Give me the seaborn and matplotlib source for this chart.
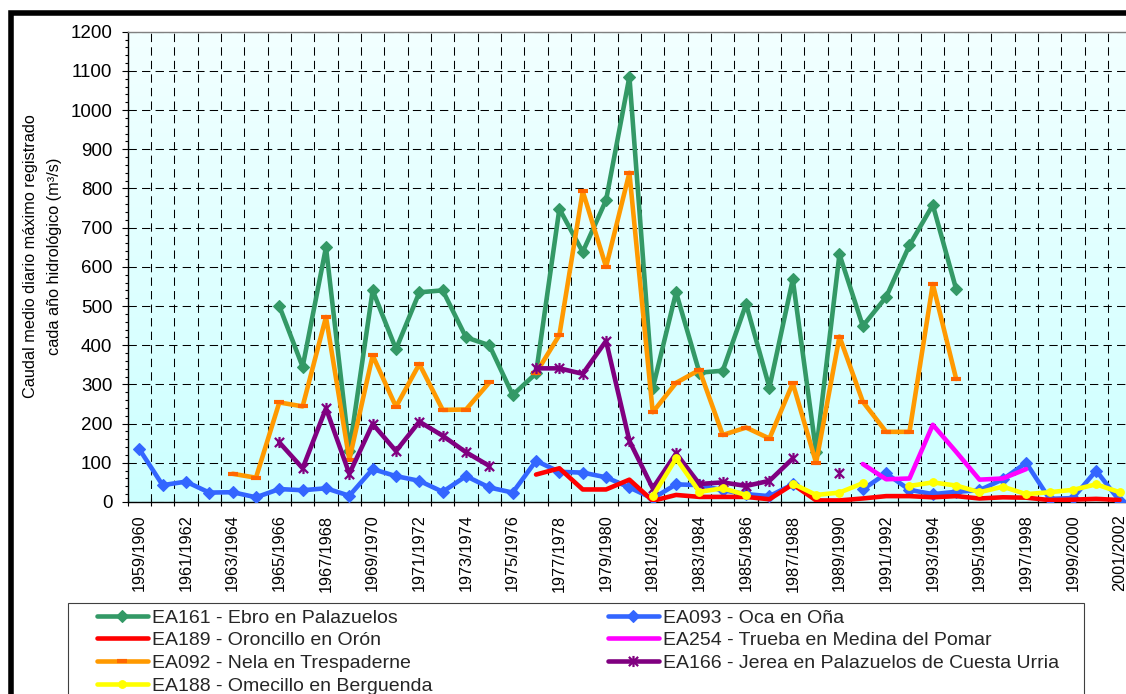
import numpy as np
import pandas as pd
import matplotlib
matplotlib.use("Agg")
import matplotlib.pyplot as plt
import seaborn as sns
from matplotlib.lines import Line2D
from matplotlib.patches import Rectangle
from matplotlib.path import Path
from matplotlib.ticker import FixedLocator, MultipleLocator, NullFormatter, FixedFormatter

nan = np.nan

# Hydrological years on the category axis
years = [
    "1959/1960", "1960/1961", "1961/1962", "1962/1963", "1963/1964", "1964/1965",
    "1965/1966", "1966/1967", "1967/1968", "1968/1969", "1969/1970", "1970/1971",
    "1971/1972", "1972/1973", "1973/1974", "1974/1975", "1975/1976", "1976/1977",
    "1977/1978", "1978/1979", "1979/1980", "1980/1981", "1981/1982", "1982/1983",
    "1983/1984", "1984/1985", "1985/1986", "1986/1987", "1987/1988", "1988/1989",
    "1989/1990", "1990/1991", "1991/1992", "1992/1993", "1993/1994", "1994/1995",
    "1995/1996", "1996/1997", "1997/1998", "1998/1999", "1999/2000", "2000/2001",
    "2001/2002",
]

# Maximum mean daily discharge per hydrological year (m3/s); NaN = no record
ea161 = [nan, nan, nan, nan, nan, nan, 500, 345, 650, 130, 540, 390, 535, 540, 420,
         400, 273, 328, 748, 638, 770, 1085, 290, 535, 330, 335, 505, 292, 568, 128,
         632, 449, 523, 655, 758, 543, nan, nan, nan, nan, nan, nan, nan]
ea093 = [135, 43, 52, 24, 25, 12, 33, 30, 35, 16, 84, 66, 54, 26, 66,
         37, 24, 105, 77, 75, 63, 37, 9, 45, 43, 30, 20, 15, 45, nan,
         nan, 32, 73, 31, 20, 26, 30, 58, 100, 8, 10, 80, 3]
ea189 = [nan, nan, nan, nan, nan, nan, nan, nan, nan, nan, nan, nan, nan, nan, nan,
         nan, nan, 70, 86, 32, 32, 57, 3, 18, 13, 13, 13, 7, 45, 4,
         4, 9, 15, 15, 12, 15, 9, 12, 11, 5, 6, 8, 5]
ea254 = [nan, nan, nan, nan, nan, nan, nan, nan, nan, nan, nan, nan, nan, nan, nan,
         nan, nan, nan, nan, nan, nan, nan, nan, nan, nan, nan, nan, nan, nan, nan,
         nan, 97, 58, 60, 197, 128, 57, 60, 84, nan, nan, nan, nan]
ea092 = [nan, nan, nan, nan, 72, 62, 254, 244, 472, 108, 374, 243, 352, 235, 236,
         305, nan, 329, 426, 793, 600, 840, 229, 304, 337, 171, 190, 162, 303, 100,
         422, 256, 179, 179, 556, 314, nan, nan, nan, nan, nan, nan, nan]
ea166 = [nan, nan, nan, nan, nan, nan, 152, 86, 239, 72, 199, 130, 205, 169, 127,
         92, nan, 341, 341, 327, 411, 156, 35, 124, 46, 50, 41, 54, 111, nan,
         73, nan, nan, nan, nan, nan, nan, nan, nan, nan, nan, nan, nan]
ea188 = [nan, nan, nan, nan, nan, nan, nan, nan, nan, nan, nan, nan, nan, nan, nan,
         nan, nan, nan, nan, nan, nan, nan, 15, 111, 26, 35, 18, nan, 47, 18,
         24, 48, nan, 41, 50, 42, 25, 39, 20, 25, 31, 45, 25]

labels = {
    "ea161": "EA161 - Ebro en Palazuelos",
    "ea093": "EA093 - Oca en Oña",
    "ea189": "EA189 - Oroncillo en Orón",
    "ea254": "EA254 - Trueba en Medina del Pomar",
    "ea092": "EA092 - Nela en Trespaderne",
    "ea166": "EA166 - Jerea en Palazuelos de Cuesta Urria",
    "ea188": "EA188 - Omecillo en Berguenda",
}

# Excel-like "star" marker: an X crossed by a vertical bar
star = Path([(-1, -1), (1, 1), (-1, 1), (1, -1), (0, -1.2), (0, 1.2)],
            [Path.MOVETO, Path.LINETO] * 3)

styles = {
    "ea161": dict(color="#339966", marker="D", markersize=6,
                  markeredgecolor="#339966", markeredgewidth=0.8),
    "ea093": dict(color="#3366FF", marker="D", markersize=6,
                  markeredgecolor="#3366FF", markeredgewidth=0.8),
    "ea189": dict(color="#FF0000", marker="None"),
    "ea254": dict(color="#FF00FF", marker="None"),
    "ea092": dict(color="#FF9900", marker="_", markersize=7,
                  markeredgecolor="#FF6600", markeredgewidth=3),
    "ea166": dict(color="#800080", marker=star, markersize=8,
                  markeredgecolor="#800080", markeredgewidth=1.6),
    "ea188": dict(color="#FFFF00", marker="o", markersize=5.5,
                  markeredgecolor="#FFFF00", markeredgewidth=0.8),
}
series = {"ea161": ea161, "ea093": ea093, "ea189": ea189, "ea254": ea254,
          "ea092": ea092, "ea166": ea166, "ea188": ea188}

# Long table; each unbroken run of values becomes its own unit so gaps stay open
rows = []
for key, vals in series.items():
    seg = 0
    prev_nan = True
    for i, v in enumerate(vals):
        if np.isnan(v):
            prev_nan = True
            continue
        if prev_nan:
            seg += 1
        prev_nan = False
        rows.append((key, f"{key}_{seg}", i, v))
df = pd.DataFrame(rows, columns=["serie", "tramo", "x", "caudal"])

sns.set_theme(style="white")
plt.rcParams["font.family"] = ["Liberation Sans", "DejaVu Sans"]

W, H = 1126, 694
fig = plt.figure(figsize=(W / 100, H / 100), dpi=100)
fig.patch.set_facecolor("white")


def fx(px):
    return px / W


def fy(py):
    return 1 - py / H


ax = fig.add_axes([fx(127.6), fy(502), fx(1131.2) - fx(127.6), fy(31.7) - fy(502)])

# Pale cyan gradient behind the plot area
t = np.linspace(0, 1, 256).reshape(-1, 1, 1)
c_top = np.array([0.95, 1.0, 1.0])
c_bot = np.array([0.80, 1.0, 1.0])
grad = c_top + (c_bot - c_top) * t
ax.imshow(grad, extent=[0, 1, 0, 1], transform=ax.transAxes, aspect="auto",
          origin="upper", zorder=-2, interpolation="bilinear")

for z, key in enumerate(series):
    sub = df[df["serie"] == key]
    sns.lineplot(data=sub, x="x", y="caudal", units="tramo", estimator=None,
                 ax=ax, legend=False, linewidth=3.3, zorder=3 + z,
                 **styles[key])

ax.set_xlim(-0.5, len(years) - 0.5)
ax.set_ylim(0, 1200)
ax.set_xlabel("")
ax.set_ylabel("")

# Category boundaries carry ticks and grid, centres carry labels
ax.xaxis.set_major_locator(FixedLocator(np.arange(-0.5, len(years), 1.0)))
ax.xaxis.set_major_formatter(NullFormatter())
centres = np.arange(0, len(years), 2)
ax.xaxis.set_minor_locator(FixedLocator(centres))
ax.xaxis.set_minor_formatter(FixedFormatter([years[i] for i in centres]))
ax.yaxis.set_major_locator(MultipleLocator(100))
ax.yaxis.set_minor_locator(MultipleLocator(20))

ax.tick_params(axis="x", which="major", direction="inout", length=5.5,
               width=0.8, color="black", bottom=True)
ax.tick_params(axis="x", which="minor", length=0, pad=9, labelsize=11.7,
               labelrotation=90, bottom=True, labelcolor="black")
ax.tick_params(axis="y", which="major", direction="out", length=4, width=0.8,
               pad=7, labelsize=13.5, color="black", left=True, labelcolor="black")
ax.tick_params(axis="y", which="minor", direction="out", length=2.5, width=0.8,
               color="black", left=True)
for lab in ax.get_xticklabels(minor=True):
    lab.set_verticalalignment("top")
    lab.set_horizontalalignment("center")

ax.set_axisbelow(True)
ax.grid(True, which="major", axis="both", color="black", linewidth=0.75,
        linestyle=(0, (8, 5)))
ax.grid(False, which="minor")

for side in ("left", "bottom"):
    ax.spines[side].set_color("black")
    ax.spines[side].set_linewidth(1.0)
ax.spines["top"].set_color("#808080")
ax.spines["top"].set_linewidth(1.0)
ax.spines["right"].set_visible(False)

fig.text(fx(42.5), fy(256),
         "Caudal medio diario máximo registrado\ncada año hidrológico (m³/s)",
         rotation=90, ha="center", va="center", multialignment="center",
         fontsize=11.7, linespacing=1.75, color="black")


def handle(key):
    return Line2D([], [], linewidth=3.3, **styles[key])


leg_kw = dict(frameon=False, borderpad=0, borderaxespad=0, fontsize=14,
              handlelength=2.62, handletextpad=0.2, labelspacing=0.26,
              loc="upper left")
col1 = ["ea161", "ea189", "ea092", "ea188"]
col2 = ["ea093", "ea254", "ea166"]
leg1 = fig.legend([handle(k) for k in col1], [labels[k] for k in col1],
                  bbox_to_anchor=(fx(97), fy(609)), **leg_kw)
leg2 = fig.legend([handle(k) for k in col2], [labels[k] for k in col2],
                  bbox_to_anchor=(fx(608), fy(609)), **leg_kw)

# Legend box and heavy chart-area border (both run past the image edges)
fig.add_artist(Rectangle((fx(68), fy(740)), fx(1084) - fx(68), fy(603) - fy(740),
                         transform=fig.transFigure, fill=False,
                         edgecolor="#404040", linewidth=0.8))
fig.add_artist(Rectangle((fx(11), fy(760)), 1.3, fy(12.5) - fy(760),
                         transform=fig.transFigure, fill=False,
                         edgecolor="black", linewidth=4))

fig.savefig("out.png", dpi=100, facecolor="white")
